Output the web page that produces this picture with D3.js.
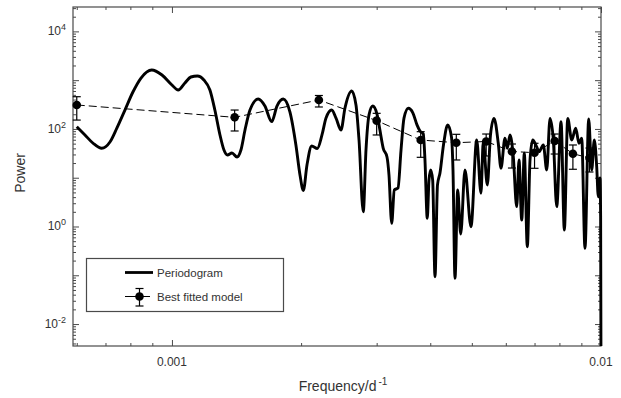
<!DOCTYPE html>
<html><head><meta charset="utf-8">
<script src="https://cdn.jsdelivr.net/npm/d3@7"></script>
<style>
body{margin:0;background:#fff;}
svg{display:block;font-family:"Liberation Sans",Arial,Helvetica,sans-serif;}
</style></head><body>
<svg id="chart" width="621" height="398"></svg>
<script>
// ---- data ----
const freq = [
0.000600,0.000627,0.000654,0.000686,0.000717,0.000744,0.000777,0.000811,0.000847,0.000897,
0.000948,0.001000,0.001034,0.001072,0.001107,0.001146,0.001187,0.001226,0.001259,0.001294,
0.001322,0.001347,0.001380,0.001418,0.001448,0.001480,0.001520,0.001589,0.001647,0.001708,
0.001757,0.001817,0.001884,0.001945,0.001988,0.002024,0.002064,0.002117,0.002182,0.002237,
0.002286,0.002357,0.002412,0.002477,0.002531,0.002624,0.002685,0.002729,0.002792,0.002833,
0.002879,0.002937,0.003005,0.003053,0.003108,0.003171,0.003205,0.003252,0.003298,0.003364,
0.003419,0.003474,0.003555,0.003645,0.003725,0.003785,0.003853,0.003888,0.003936,0.003973,
0.004009,0.004052,0.004103,0.004158,0.004214,0.004294,0.004392,0.004482,0.004519,0.004568,
0.004634,0.004710,0.004819,0.004977,0.005132,0.005251,0.005316,0.005433,0.005526,0.005631,
0.005762,0.005846,0.005973,0.006047,0.006136,0.006246,0.006361,0.006440,0.006535,0.006626,
0.006734,0.006832,0.006932,0.007082,0.007171,0.007338,0.007473,0.007607,0.007743,0.007885,
0.008070,0.008214,0.008365,0.008546,0.008730,0.008886,0.009016,0.009177,0.009361,0.009513,
0.009647,0.009772,0.009856,0.009947,0.009980,0.010000];
const power = [
111,75.2,51.5,40.1,54.0,104,244,572,1107,1616,
1276,796,628,875,1161,1216,1007,628,244,75.2,
37.0,29.2,32.1,26.6,37.0,95.1,244,411,295,141,
295,411,222,46.9,11.4,5.47,18.2,44.7,39.7,75.2,
167,244,167,95.1,269,600,310,59.3,2.01,37.0,
193,295,202,95.1,40.1,26.6,11.4,1.16,5.60,6.15,
37.0,167,265,212,121,90.8,78.7,23.1,1.47,8.97,
14.4,8.97,0.0935,7.10,12.5,46.9,121,68.4,14.4,0.0867,
5.60,0.702,14.4,0.991,59.3,4.80,54.8,7.10,75.2,165,
50.8,15.6,64.3,40.1,75.2,27.0,2.55,23.1,1.36,31.7,
0.385,23.1,59.3,42.7,34.2,46.9,14.4,165,59.3,2.55,
141,0.848,165,59.3,103,50.8,64.3,0.357,160,14.4,
59.3,16.8,4.08,9.86,1.64,0.001];

const modelFreq  = [0.0006,0.0014,0.0022,0.0030,0.0038,0.0046,0.0054,0.0062,0.0070,0.0078,0.0086,0.0094];
const modelPower = [310,173,392,148,59.3,52.2,55.3,34.5,32.6,56.6,31.1,25.4];
const modelHigh  = [458,244,485,209,87.9,77.6,78.7,49.1,50.8,78.7,46.9,40.6];
const modelLow   = [152,90.8,282,75.2,26.2,23.1,27.9,15.8,15.6,30.6,14.9,13.1];

const xDomain = [0.000588, 0.01];
const yDomain = [Math.pow(10,-2.45), Math.pow(10,4.5)];
const xMajorTicks = [0.001, 0.01];
const xMajorLabels = ["0.001", "0.01"];
const yLabelExponents = [-2, 0, 2, 4];
const legendLabels = ["Periodogram", "Best fitted model"];
const xTitle = "Frequency/d";
const xTitleSup = "-1";
const yTitle = "Power";

// ---- layout ----
const L = 73, R = 601, T = 7, B = 346;
const axisColor = "#4a4a4a", textColor = "#333";
const svg = d3.select("#chart");
const x = d3.scaleLog().domain(xDomain).range([L, R]);
const y = d3.scaleLog().domain(yDomain).range([B, T]);

svg.append("defs").append("clipPath").attr("id","clip")
  .append("rect").attr("x",L).attr("y",T).attr("width",R-L+2).attr("height",B-T);

// minor/major tick values
const xMinor = [];
for (let e=-4; e<=-2; e++) for (let k=2;k<=9;k++){const v=k*Math.pow(10,e); if(v>=xDomain[0]&&v<=xDomain[1]) xMinor.push(v);}
const yMajor = [], yMinor = [];
for (let e=-3; e<=4; e++){ const v=Math.pow(10,e); if(v>=yDomain[0]&&v<=yDomain[1]) yMajor.push(v);
  for (let k=2;k<=9;k++){const w=k*v; if(w>=yDomain[0]&&w<=yDomain[1]) yMinor.push(w);} }

function styleAxis(g){ g.select(".domain").remove(); g.selectAll("line").attr("stroke",axisColor).attr("stroke-width",1); g.selectAll("text").remove(); }

// bottom & top
svg.append("g").attr("transform",`translate(0,${B})`).call(d3.axisBottom(x).tickValues(xMinor).tickSize(-3).tickFormat("")).call(styleAxis);
svg.append("g").attr("transform",`translate(0,${B})`).call(d3.axisBottom(x).tickValues(xMajorTicks).tickSize(-6).tickFormat("")).call(styleAxis);
svg.append("g").attr("transform",`translate(0,${T})`).call(d3.axisTop(x).tickValues(xMinor).tickSize(-3).tickFormat("")).call(styleAxis);
svg.append("g").attr("transform",`translate(0,${T})`).call(d3.axisTop(x).tickValues(xMajorTicks).tickSize(-6).tickFormat("")).call(styleAxis);
// left & right
svg.append("g").attr("transform",`translate(${L},0)`).call(d3.axisLeft(y).tickValues(yMinor).tickSize(-3).tickFormat("")).call(styleAxis);
svg.append("g").attr("transform",`translate(${L},0)`).call(d3.axisLeft(y).tickValues(yMajor).tickSize(-6).tickFormat("")).call(styleAxis);
svg.append("g").attr("transform",`translate(${R},0)`).call(d3.axisRight(y).tickValues(yMinor).tickSize(-3).tickFormat("")).call(styleAxis);
svg.append("g").attr("transform",`translate(${R},0)`).call(d3.axisRight(y).tickValues(yMajor).tickSize(-6).tickFormat("")).call(styleAxis);

// x tick labels
svg.append("g").selectAll("text").data(xMajorTicks).join("text")
  .attr("x",d=>x(d)).attr("y",B+20).attr("text-anchor","middle")
  .attr("font-size",12).attr("fill",textColor).text((d,i)=>xMajorLabels[i]);
// y tick labels 10^e
const yl = svg.append("g").selectAll("text").data(yLabelExponents).join("text")
  .attr("x",L-7).attr("y",d=>y(Math.pow(10,d))+4).attr("text-anchor","end")
  .attr("font-size",12).attr("fill",textColor);
yl.append("tspan").text("10");
yl.append("tspan").attr("dy",-5).attr("font-size",9).text(d=>String(d));

// frame
svg.append("rect").attr("x",L).attr("y",T).attr("width",R-L).attr("height",B-T)
  .attr("fill","none").attr("stroke",axisColor).attr("stroke-width",1.2);

// periodogram curve
const pts = freq.map((f,i)=>[f,power[i]]);
svg.append("path").datum(pts).attr("clip-path","url(#clip)")
  .attr("fill","none").attr("stroke","#000").attr("stroke-width",2.9).attr("stroke-linejoin","round")
  .attr("d", d3.line().x(d=>x(d[0])).y(d=>y(d[1])).curve(d3.curveMonotoneX));

// model dashed line
const mpts = modelFreq.map((f,i)=>({f, p:modelPower[i], lo:modelLow[i], hi:modelHigh[i]}));
svg.append("path").datum(mpts).attr("fill","none").attr("stroke","#000").attr("stroke-width",1)
  .attr("stroke-dasharray","8,4")
  .attr("d", d3.line().x(d=>x(d.f)).y(d=>y(d.p)));
const eb = svg.append("g").attr("stroke","#000").attr("stroke-width",1.2);
mpts.forEach(d=>{
  const cx = x(d.f);
  eb.append("line").attr("x1",cx).attr("x2",cx).attr("y1",y(d.hi)).attr("y2",y(d.lo));
  eb.append("line").attr("x1",cx-4).attr("x2",cx+4).attr("y1",y(d.hi)).attr("y2",y(d.hi));
  eb.append("line").attr("x1",cx-4).attr("x2",cx+4).attr("y1",y(d.lo)).attr("y2",y(d.lo));
});
svg.append("g").selectAll("circle").data(mpts).join("circle")
  .attr("cx",d=>x(d.f)).attr("cy",d=>y(d.p)).attr("r",4.3).attr("fill","#000");

// axis titles
const xt = svg.append("text").attr("x",343).attr("y",391).attr("text-anchor","middle")
  .attr("font-size",14).attr("fill",textColor);
xt.append("tspan").text(xTitle);
xt.append("tspan").attr("dx",2).attr("dy",-6).attr("font-size",10).text(xTitleSup);
svg.append("text").attr("transform","translate(25,173) rotate(-90)").attr("text-anchor","middle")
  .attr("font-size",14).attr("fill",textColor).text(yTitle);

// legend
const lg = svg.append("g");
lg.append("rect").attr("x",86.5).attr("y",258.5).attr("width",197).attr("height",53)
  .attr("fill","#fff").attr("stroke",axisColor).attr("stroke-width",1.2);
lg.append("line").attr("x1",125).attr("x2",153).attr("y1",272.5).attr("y2",272.5).attr("stroke","#000").attr("stroke-width",2.8);
lg.append("line").attr("x1",125).attr("x2",150).attr("y1",296.5).attr("y2",296.5).attr("stroke","#000").attr("stroke-width",1);
lg.append("line").attr("x1",139.5).attr("x2",139.5).attr("y1",288.5).attr("y2",306).attr("stroke","#000").attr("stroke-width",1.2);
lg.append("line").attr("x1",135.5).attr("x2",143.5).attr("y1",288.5).attr("y2",288.5).attr("stroke","#000").attr("stroke-width",1.2);
lg.append("line").attr("x1",135.5).attr("x2",143.5).attr("y1",306).attr("y2",306).attr("stroke","#000").attr("stroke-width",1.2);
lg.append("circle").attr("cx",139.5).attr("cy",296.5).attr("r",4.3).attr("fill","#000");
lg.selectAll("text.lt").data(legendLabels).join("text").attr("class","lt")
  .attr("x",157).attr("y",(d,i)=>i===0?276.5:300.5).attr("font-size",11.5).attr("fill",textColor).text(d=>d);
</script></body></html>
